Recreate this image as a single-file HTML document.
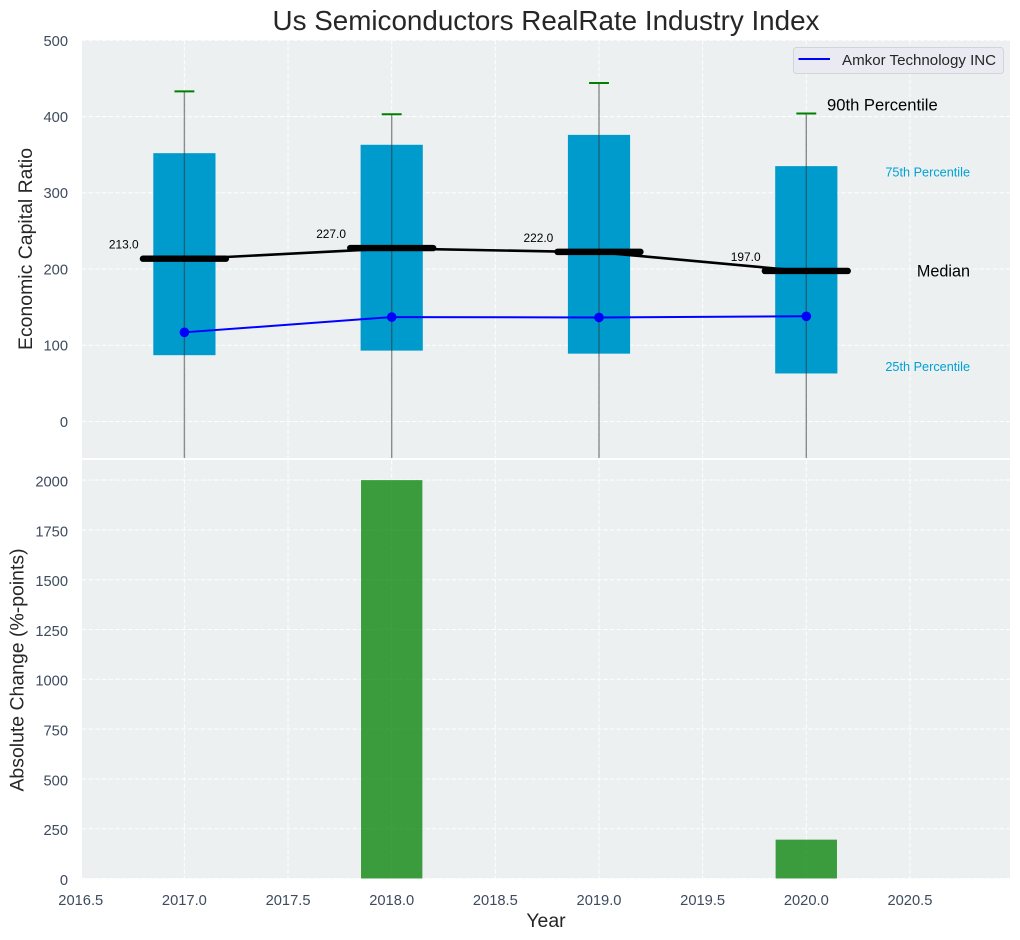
<!DOCTYPE html>
<html>
<head>
<meta charset="utf-8">
<title>Us Semiconductors RealRate Industry Index</title>
<style>
html,body{margin:0;padding:0;background:#fff;}
svg{display:block;font-family:"Liberation Sans",Arial,sans-serif;}
</style>
</head>
<body>
<svg id="chart" width="1020" height="940" viewBox="0 0 1020 940" xmlns="http://www.w3.org/2000/svg"></svg>
<script>
const years = [2017, 2018, 2019, 2020];
const p90 = [433, 403, 444, 404];
const p75 = [352, 363, 376, 335];
const medians = [213, 227, 222, 197];
const p25 = [87, 93, 89, 63];
const p10 = [-70, -70, -70, -70];
const company = [117, 137, 136.5, 138];
const changes = [0, 2000, 0, 195];
const companyName = 'Amkor Technology INC';
const xTicks = [2016.5, 2017, 2017.5, 2018, 2018.5, 2019, 2019.5, 2020, 2020.5];
const topTicks = [0, 100, 200, 300, 400, 500];
const bottomTicks = [0, 250, 500, 750, 1000, 1250, 1500, 1750, 2000];

const svg = document.getElementById('chart');
const NS = 'http://www.w3.org/2000/svg';
const L = 82, R = 1010, T1 = 40, B1 = 458, T2 = 460, B2 = 878.5;
const x = v => 184.4 + (v - 2017) * 207.3;
const yTop = v => 421.5 - v * 0.7623;
const yBot = v => 878.5 - v * 0.1992;

function mk(tag, props, parent) {
  const el = document.createElementNS(NS, tag);
  for (const k in props) el.setAttribute(k, props[k]);
  (parent || svg).appendChild(el);
  return el;
}
function txt(str, props, parent) {
  const el = mk('text', props, parent);
  el.textContent = str;
  return el;
}

const defs = mk('defs', {});
const clip1 = mk('clipPath', {id: 'clip-top'}, defs);
mk('rect', {x: L, y: T1, width: R - L, height: B1 - T1}, clip1);
const clip2 = mk('clipPath', {id: 'clip-bottom'}, defs);
mk('rect', {x: L, y: T2, width: R - L, height: B2 - T2}, clip2);

/* panels */
const panelTop = mk('rect', {x: L, y: T1, width: R - L, height: B1 - T1, fill: '#ecf0f1'});


const panelBottom = mk('rect', {x: L, y: T2, width: R - L, height: B2 - T2, fill: '#ecf0f1'});



/* grid */
const gridStyle = {stroke: '#ffffff', 'stroke-opacity': 0.85, 'stroke-width': 1.1, 'stroke-dasharray': '4.6 2', fill: 'none'};
const gridGroup = mk('g', {});


xTicks.forEach(t => {
  const px = x(t);
  if (px < L || px > R) return;
  mk('line', Object.assign({x1: px, x2: px, y1: T1, y2: B1}, gridStyle), gridGroup);
  mk('line', Object.assign({x1: px, x2: px, y1: T2, y2: B2}, gridStyle), gridGroup);
});
topTicks.forEach(t => {
  mk('line', Object.assign({x1: L, x2: R, y1: yTop(t), y2: yTop(t)}, gridStyle), gridGroup);
});
bottomTicks.forEach(t => {
  mk('line', Object.assign({x1: L, x2: R, y1: yBot(t), y2: yBot(t)}, gridStyle), gridGroup);
});

/* top plot */
const topG = mk('g', {'clip-path': 'url(#clip-top)'});



years.forEach((yr, i) => {
  const box = mk('rect', {
    x: x(yr - 0.15), y: yTop(p75[i]), width: x(yr + 0.15) - x(yr - 0.15), height: yTop(p25[i]) - yTop(p75[i]),
    fill: '#009bcd'
  }, topG);
  
  
});
years.forEach((yr, i) => {
  const whisker = mk('line', {
    x1: x(yr), x2: x(yr), y1: yTop(p90[i]), y2: yTop(p10[i]),
    stroke: '#333333', 'stroke-opacity': 0.55, 'stroke-width': 1.4
  }, topG);
  
  
  const cap = mk('line', {
    x1: x(yr - 0.048), x2: x(yr + 0.048), y1: yTop(p90[i]), y2: yTop(p90[i]),
    stroke: '#008000', 'stroke-width': 2
  }, topG);
  
  
});

const medianLine = mk('polyline', {
  points: years.map((yr, i) => x(yr) + ',' + yTop(medians[i])).join(' '),
  fill: 'none', stroke: '#000000', 'stroke-width': 2.6
}, topG);



years.forEach((yr, i) => {
  const bar = mk('line', {
    x1: x(yr - 0.2), x2: x(yr + 0.2), y1: yTop(medians[i]) - 0.4, y2: yTop(medians[i]) - 0.4,
    stroke: '#000000', 'stroke-width': 6.4, 'stroke-linecap': 'round'
  }, topG);
  
  
  const label = txt(medians[i].toFixed(1), {
    x: x(yr) - 75.5, y: yTop(medians[i]) - 10.5, 'font-size': 11.9, fill: '#000000'
  });
  
  
});

const companyLine = mk('polyline', {
  points: years.map((yr, i) => x(yr) + ',' + yTop(company[i])).join(' '),
  fill: 'none', stroke: '#0000ff', 'stroke-width': 2
}, topG);


years.forEach((yr, i) => {
  const dot = mk('circle', {cx: x(yr), cy: yTop(company[i]), r: 4.8, fill: '#0000ff'}, topG);
  
  
});

/* annotations tied to last year's values */
const last = years.length - 1;
const a90 = txt('90th Percentile', {x: 827, y: yTop(p90[last]) - 3, 'font-size': 16.6, fill: '#000000'});


const a75 = txt('75th Percentile', {x: 970, y: yTop(p75[last]) + 10.5, 'font-size': 12.7, fill: '#00a2d3', 'text-anchor': 'end'});


const aMed = txt('Median', {x: 970, y: yTop(medians[last]) + 5, 'font-size': 16.2, fill: '#000000', 'text-anchor': 'end'});


const a25 = txt('25th Percentile', {x: 970, y: yTop(p25[last]) - 2.5, 'font-size': 12.7, fill: '#00a2d3', 'text-anchor': 'end'});



/* bottom plot */
const botG = mk('g', {'clip-path': 'url(#clip-bottom)'});


years.forEach((yr, i) => {
  const bar = mk('rect', {
    x: x(yr - 0.148), y: yBot(changes[i]), width: x(yr + 0.148) - x(yr - 0.148), height: yBot(0) - yBot(changes[i]),
    fill: '#008000', 'fill-opacity': 0.75
  }, botG);
  
  
});

/* tick labels */
const tickFill = '#3d4b5f';
topTicks.forEach(t => {
  const el = txt(String(t), {x: 68, y: yTop(t) + 5.4, 'font-size': 14.7, fill: tickFill, 'text-anchor': 'end'});
  
  
});
bottomTicks.forEach(t => {
  const el = txt(String(t), {x: 68, y: yBot(t) + 6.4, 'font-size': 14.7, fill: tickFill, 'text-anchor': 'end'});
  
  
});
xTicks.forEach(t => {
  const el = txt(t.toFixed(1), {x: x(t), y: 905, 'font-size': 14.7, fill: tickFill, 'text-anchor': 'middle'});
  
  
});

/* titles */
const title = txt('Us Semiconductors RealRate Industry Index', {x: 546, y: 30, 'font-size': 27.8, fill: '#262626', 'text-anchor': 'middle'});


const yt1 = txt('Economic Capital Ratio', {transform: 'translate(32,249) rotate(-90)', 'font-size': 19.44, fill: '#262626', 'text-anchor': 'middle'});


const yt2 = txt('Absolute Change (%-points)', {transform: 'translate(23.5,670) rotate(-90)', 'font-size': 19.44, fill: '#262626', 'text-anchor': 'middle'});


const xt = txt('Year', {x: 546, y: 927, 'font-size': 19.44, fill: '#262626', 'text-anchor': 'middle'});



/* legend */
const legend = mk('g', {});


mk('rect', {x: 793.5, y: 47.5, width: 210, height: 26, rx: 3, fill: '#eaeaf2', stroke: '#d3d3d8', 'stroke-width': 1}, legend);
const legendLine = mk('line', {x1: 798.5, x2: 830, y1: 59, y2: 59, stroke: '#0000ff', 'stroke-width': 2}, legend);


const legendText = txt(companyName, {x: 842, y: 65, 'font-size': 15.1, fill: '#262626'}, legend);


</script>
</body>
</html>
